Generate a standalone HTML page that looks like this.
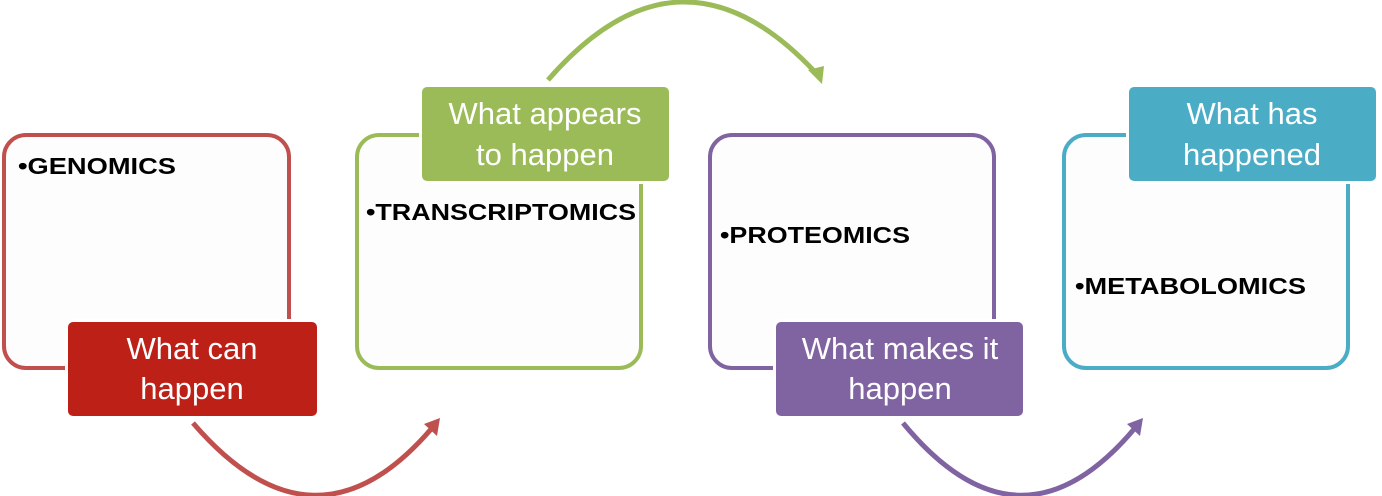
<!DOCTYPE html>
<html><head><meta charset="utf-8"><style>
html,body{margin:0;padding:0;background:#fff;}
svg{display:block;}
.lbl{font-family:"Liberation Sans Narrow","Liberation Sans",sans-serif;font-size:31px;fill:#fff;text-anchor:middle;}
.item{font-family:"Liberation Sans",sans-serif;font-size:23px;font-weight:bold;fill:#000;}
</style></head><body>
<svg width="1382" height="496" viewBox="0 0 1382 496">
<!-- arrows -->
<path d="M193,423 Q315,565 432,428" fill="none" stroke="#c0504d" stroke-width="5"/>
<path d="M424,424 L440,418 L437,436 Z" fill="#c0504d"/>
<path d="M548,80 Q680,-72 815,72" fill="none" stroke="#9bbb59" stroke-width="5"/>
<path d="M808,70 L822,84 L824,66 Z" fill="#9bbb59"/>
<path d="M903,423 Q1020,565 1135,428" fill="none" stroke="#8064a2" stroke-width="5"/>
<path d="M1127,424 L1143,418 L1140,436 Z" fill="#8064a2"/>

<!-- boxes -->
<rect x="4" y="135" width="285" height="233" rx="22" fill="#fdfdfd" stroke="#c0504d" stroke-width="4"/>
<rect x="357" y="135" width="284" height="233" rx="22" fill="#fdfdfd" stroke="#9bbb59" stroke-width="4"/>
<rect x="710" y="135" width="284" height="233" rx="22" fill="#fdfdfd" stroke="#8064a2" stroke-width="4"/>
<rect x="1064" y="135" width="284" height="233" rx="22" fill="#fdfdfd" stroke="#4bacc6" stroke-width="4"/>

<text class="item" x="18" y="174" textLength="158" lengthAdjust="spacingAndGlyphs">•GENOMICS</text>
<text class="item" x="366" y="220" textLength="270" lengthAdjust="spacingAndGlyphs">•TRANSCRIPTOMICS</text>
<text class="item" x="720" y="243" textLength="190" lengthAdjust="spacingAndGlyphs">•PROTEOMICS</text>
<text class="item" x="1075" y="294" textLength="231" lengthAdjust="spacingAndGlyphs">•METABOLOMICS</text>

<!-- labels -->
<rect x="68" y="322" width="249" height="94" rx="5" fill="#bd2017" stroke="#fff" stroke-width="6" paint-order="stroke"/>
<text class="lbl" x="192" y="359">What can</text>
<text class="lbl" x="192" y="399">happen</text>

<rect x="422" y="87" width="247" height="94" rx="5" fill="#9bbb59" stroke="#fff" stroke-width="6" paint-order="stroke"/>
<text class="lbl" x="545" y="124">What appears</text>
<text class="lbl" x="545" y="165">to happen</text>

<rect x="776" y="322" width="247" height="94" rx="5" fill="#8064a2" stroke="#fff" stroke-width="6" paint-order="stroke"/>
<text class="lbl" x="900" y="359">What makes it</text>
<text class="lbl" x="900" y="399">happen</text>

<rect x="1129" y="87" width="247" height="94" rx="5" fill="#4bacc6" stroke="#fff" stroke-width="6" paint-order="stroke"/>
<text class="lbl" x="1252" y="124">What has</text>
<text class="lbl" x="1252" y="165">happened</text>
</svg>
</body></html>
